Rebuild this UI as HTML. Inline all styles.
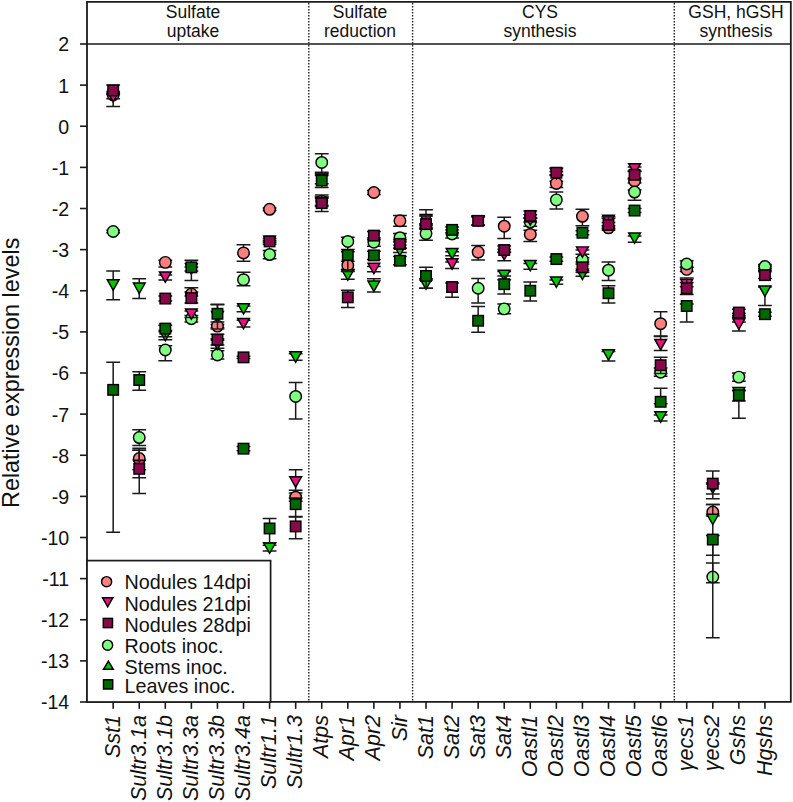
<!DOCTYPE html>
<html><head><meta charset="utf-8"><style>
html,body{margin:0;padding:0;background:#fff;}
body{width:793px;height:802px;position:relative;overflow:hidden;font-family:"Liberation Sans",sans-serif;color:#111;}
svg{position:absolute;left:0;top:0;}
.yt{position:absolute;right:723.8px;font-size:19.6px;line-height:22px;text-align:right;white-space:nowrap;}
.xl{position:absolute;top:715px;font-size:21.5px;font-style:italic;line-height:21px;white-space:nowrap;transform-origin:0 0;transform:rotate(-90deg) translate(-100%,-100%);text-align:right;}
.hd{position:absolute;top:0;font-size:17.5px;line-height:19.3px;text-align:center;white-space:nowrap;}
.lg{position:absolute;left:124.6px;font-size:19.75px;line-height:22px;white-space:nowrap;}
.ylab{position:absolute;left:0;top:0;font-size:23.4px;line-height:24px;white-space:nowrap;transform-origin:0 0;}
</style></head><body>
<svg width="793" height="802" viewBox="0 0 793 802">
<path d="M87,1.8H790.8V701.8H87Z" fill="none" stroke="#1a1a1a" stroke-width="1.8"/>
<path d="M87,44H790.8" stroke="#1a1a1a" stroke-width="1.6"/>
<path d="M308.8,3V701" stroke="#222" stroke-width="1.4" stroke-dasharray="1.5,1.5"/>
<path d="M412.6,3V701" stroke="#222" stroke-width="1.4" stroke-dasharray="1.5,1.5"/>
<path d="M674.3,3V701" stroke="#222" stroke-width="1.4" stroke-dasharray="1.5,1.5"/>
<path d="M80,44.00H87" stroke="#1a1a1a" stroke-width="1.6"/>
<path d="M80,85.12H87" stroke="#1a1a1a" stroke-width="1.6"/>
<path d="M80,126.25H87" stroke="#1a1a1a" stroke-width="1.6"/>
<path d="M80,167.38H87" stroke="#1a1a1a" stroke-width="1.6"/>
<path d="M80,208.50H87" stroke="#1a1a1a" stroke-width="1.6"/>
<path d="M80,249.62H87" stroke="#1a1a1a" stroke-width="1.6"/>
<path d="M80,290.75H87" stroke="#1a1a1a" stroke-width="1.6"/>
<path d="M80,331.88H87" stroke="#1a1a1a" stroke-width="1.6"/>
<path d="M80,373.00H87" stroke="#1a1a1a" stroke-width="1.6"/>
<path d="M80,414.12H87" stroke="#1a1a1a" stroke-width="1.6"/>
<path d="M80,455.25H87" stroke="#1a1a1a" stroke-width="1.6"/>
<path d="M80,496.38H87" stroke="#1a1a1a" stroke-width="1.6"/>
<path d="M80,537.50H87" stroke="#1a1a1a" stroke-width="1.6"/>
<path d="M80,578.62H87" stroke="#1a1a1a" stroke-width="1.6"/>
<path d="M80,619.75H87" stroke="#1a1a1a" stroke-width="1.6"/>
<path d="M80,660.88H87" stroke="#1a1a1a" stroke-width="1.6"/>
<path d="M80,702.00H87" stroke="#1a1a1a" stroke-width="1.6"/>
<path d="M113.17,702V708.8" stroke="#1a1a1a" stroke-width="1.6"/>
<path d="M139.24,702V708.8" stroke="#1a1a1a" stroke-width="1.6"/>
<path d="M165.31,702V708.8" stroke="#1a1a1a" stroke-width="1.6"/>
<path d="M191.38,702V708.8" stroke="#1a1a1a" stroke-width="1.6"/>
<path d="M217.45,702V708.8" stroke="#1a1a1a" stroke-width="1.6"/>
<path d="M243.52,702V708.8" stroke="#1a1a1a" stroke-width="1.6"/>
<path d="M269.59,702V708.8" stroke="#1a1a1a" stroke-width="1.6"/>
<path d="M295.66,702V708.8" stroke="#1a1a1a" stroke-width="1.6"/>
<path d="M321.73,702V708.8" stroke="#1a1a1a" stroke-width="1.6"/>
<path d="M347.80,702V708.8" stroke="#1a1a1a" stroke-width="1.6"/>
<path d="M373.87,702V708.8" stroke="#1a1a1a" stroke-width="1.6"/>
<path d="M399.94,702V708.8" stroke="#1a1a1a" stroke-width="1.6"/>
<path d="M426.01,702V708.8" stroke="#1a1a1a" stroke-width="1.6"/>
<path d="M452.08,702V708.8" stroke="#1a1a1a" stroke-width="1.6"/>
<path d="M478.15,702V708.8" stroke="#1a1a1a" stroke-width="1.6"/>
<path d="M504.22,702V708.8" stroke="#1a1a1a" stroke-width="1.6"/>
<path d="M530.29,702V708.8" stroke="#1a1a1a" stroke-width="1.6"/>
<path d="M556.36,702V708.8" stroke="#1a1a1a" stroke-width="1.6"/>
<path d="M582.43,702V708.8" stroke="#1a1a1a" stroke-width="1.6"/>
<path d="M608.50,702V708.8" stroke="#1a1a1a" stroke-width="1.6"/>
<path d="M634.57,702V708.8" stroke="#1a1a1a" stroke-width="1.6"/>
<path d="M660.64,702V708.8" stroke="#1a1a1a" stroke-width="1.6"/>
<path d="M686.71,702V708.8" stroke="#1a1a1a" stroke-width="1.6"/>
<path d="M712.78,702V708.8" stroke="#1a1a1a" stroke-width="1.6"/>
<path d="M738.85,702V708.8" stroke="#1a1a1a" stroke-width="1.6"/>
<path d="M764.92,702V708.8" stroke="#1a1a1a" stroke-width="1.6"/>
<path d="M113.17,93.76V106.51M106.27,93.76H120.07M106.27,106.51H120.07" stroke="#1a1a1a" stroke-width="1.5" fill="none"/>
<path d="M139.24,450.31V493.50M132.34,450.31H146.14M132.34,493.50H146.14" stroke="#1a1a1a" stroke-width="1.5" fill="none"/>
<path d="M165.31,260.32V266.90M158.41,260.32H172.21M158.41,266.90H172.21" stroke="#1a1a1a" stroke-width="1.5" fill="none"/>
<path d="M191.38,291.98V296.10M184.48,291.98H198.28M184.48,296.10H198.28" stroke="#1a1a1a" stroke-width="1.5" fill="none"/>
<path d="M217.45,324.47V327.76M210.55,324.47H224.35M210.55,327.76H224.35" stroke="#1a1a1a" stroke-width="1.5" fill="none"/>
<path d="M243.52,244.69V261.14M236.62,244.69H250.42M236.62,261.14H250.42" stroke="#1a1a1a" stroke-width="1.5" fill="none"/>
<path d="M269.59,208.09V210.56M262.69,208.09H276.49M262.69,210.56H276.49" stroke="#1a1a1a" stroke-width="1.5" fill="none"/>
<path d="M295.66,493.08V501.31M288.76,493.08H302.56M288.76,501.31H302.56" stroke="#1a1a1a" stroke-width="1.5" fill="none"/>
<path d="M321.73,196.98V205.21M314.83,196.98H328.63M314.83,205.21H328.63" stroke="#1a1a1a" stroke-width="1.5" fill="none"/>
<path d="M347.80,261.14V269.37M340.90,261.14H354.70M340.90,269.37H354.70" stroke="#1a1a1a" stroke-width="1.5" fill="none"/>
<path d="M373.87,190.41V194.52M366.97,190.41H380.77M366.97,194.52H380.77" stroke="#1a1a1a" stroke-width="1.5" fill="none"/>
<path d="M399.94,215.49V226.18M393.04,215.49H406.84M393.04,226.18H406.84" stroke="#1a1a1a" stroke-width="1.5" fill="none"/>
<path d="M426.01,224.95V229.06M419.11,224.95H432.91M419.11,229.06H432.91" stroke="#1a1a1a" stroke-width="1.5" fill="none"/>
<path d="M478.15,245.51V259.91M471.25,245.51H485.05M471.25,259.91H485.05" stroke="#1a1a1a" stroke-width="1.5" fill="none"/>
<path d="M504.22,217.14V238.52M497.32,217.14H511.12M497.32,238.52H511.12" stroke="#1a1a1a" stroke-width="1.5" fill="none"/>
<path d="M530.29,230.30V241.40M523.39,230.30H537.19M523.39,241.40H537.19" stroke="#1a1a1a" stroke-width="1.5" fill="none"/>
<path d="M556.36,181.36V187.53M549.46,181.36H563.26M549.46,187.53H563.26" stroke="#1a1a1a" stroke-width="1.5" fill="none"/>
<path d="M582.43,209.32V225.77M575.53,209.32H589.33M575.53,225.77H589.33" stroke="#1a1a1a" stroke-width="1.5" fill="none"/>
<path d="M608.50,225.77V229.88M601.60,225.77H615.40M601.60,229.88H615.40" stroke="#1a1a1a" stroke-width="1.5" fill="none"/>
<path d="M634.57,178.89V183.00M627.67,178.89H641.47M627.67,183.00H641.47" stroke="#1a1a1a" stroke-width="1.5" fill="none"/>
<path d="M660.64,311.72V335.99M653.74,311.72H667.54M653.74,335.99H667.54" stroke="#1a1a1a" stroke-width="1.5" fill="none"/>
<path d="M686.71,267.31V271.42M679.81,267.31H693.61M679.81,271.42H693.61" stroke="#1a1a1a" stroke-width="1.5" fill="none"/>
<path d="M712.78,504.60V516.12M705.88,504.60H719.68M705.88,516.12H719.68" stroke="#1a1a1a" stroke-width="1.5" fill="none"/>
<path d="M738.85,313.37V317.48M731.95,313.37H745.75M731.95,317.48H745.75" stroke="#1a1a1a" stroke-width="1.5" fill="none"/>
<path d="M764.92,266.08V270.19M758.02,266.08H771.82M758.02,270.19H771.82" stroke="#1a1a1a" stroke-width="1.5" fill="none"/>
<circle cx="113.17" cy="95.00" r="5.75" fill="#FD8080" stroke="#000" stroke-width="1.45"/>
<circle cx="139.24" cy="458.54" r="5.75" fill="#FD8080" stroke="#000" stroke-width="1.45"/>
<circle cx="165.31" cy="262.37" r="5.75" fill="#FD8080" stroke="#000" stroke-width="1.45"/>
<circle cx="191.38" cy="294.04" r="5.75" fill="#FD8080" stroke="#000" stroke-width="1.45"/>
<circle cx="217.45" cy="326.12" r="5.75" fill="#FD8080" stroke="#000" stroke-width="1.45"/>
<circle cx="243.52" cy="252.91" r="5.75" fill="#FD8080" stroke="#000" stroke-width="1.45"/>
<circle cx="269.59" cy="209.32" r="5.75" fill="#FD8080" stroke="#000" stroke-width="1.45"/>
<circle cx="295.66" cy="497.20" r="5.75" fill="#FD8080" stroke="#000" stroke-width="1.45"/>
<circle cx="321.73" cy="201.10" r="5.75" fill="#FD8080" stroke="#000" stroke-width="1.45"/>
<circle cx="347.80" cy="265.25" r="5.75" fill="#FD8080" stroke="#000" stroke-width="1.45"/>
<circle cx="373.87" cy="192.46" r="5.75" fill="#FD8080" stroke="#000" stroke-width="1.45"/>
<circle cx="399.94" cy="220.84" r="5.75" fill="#FD8080" stroke="#000" stroke-width="1.45"/>
<circle cx="426.01" cy="227.01" r="5.75" fill="#FD8080" stroke="#000" stroke-width="1.45"/>
<circle cx="478.15" cy="252.09" r="5.75" fill="#FD8080" stroke="#000" stroke-width="1.45"/>
<circle cx="504.22" cy="226.18" r="5.75" fill="#FD8080" stroke="#000" stroke-width="1.45"/>
<circle cx="530.29" cy="234.41" r="5.75" fill="#FD8080" stroke="#000" stroke-width="1.45"/>
<circle cx="556.36" cy="183.41" r="5.75" fill="#FD8080" stroke="#000" stroke-width="1.45"/>
<circle cx="582.43" cy="216.31" r="5.75" fill="#FD8080" stroke="#000" stroke-width="1.45"/>
<circle cx="608.50" cy="227.83" r="5.75" fill="#FD8080" stroke="#000" stroke-width="1.45"/>
<circle cx="634.57" cy="180.95" r="5.75" fill="#FD8080" stroke="#000" stroke-width="1.45"/>
<circle cx="660.64" cy="323.65" r="5.75" fill="#FD8080" stroke="#000" stroke-width="1.45"/>
<circle cx="686.71" cy="269.37" r="5.75" fill="#FD8080" stroke="#000" stroke-width="1.45"/>
<circle cx="712.78" cy="512.00" r="5.75" fill="#FD8080" stroke="#000" stroke-width="1.45"/>
<circle cx="738.85" cy="315.43" r="5.75" fill="#FD8080" stroke="#000" stroke-width="1.45"/>
<circle cx="764.92" cy="268.13" r="5.75" fill="#FD8080" stroke="#000" stroke-width="1.45"/>
<path d="M113.17,230.30V232.76M106.27,230.30H120.07M106.27,232.76H120.07" stroke="#1a1a1a" stroke-width="1.5" fill="none"/>
<path d="M139.24,429.75V445.38M132.34,429.75H146.14M132.34,445.38H146.14" stroke="#1a1a1a" stroke-width="1.5" fill="none"/>
<path d="M165.31,345.86V360.66M158.41,345.86H172.21M158.41,360.66H172.21" stroke="#1a1a1a" stroke-width="1.5" fill="none"/>
<path d="M191.38,315.43V322.00M184.48,315.43H198.28M184.48,322.00H198.28" stroke="#1a1a1a" stroke-width="1.5" fill="none"/>
<path d="M217.45,350.79V359.02M210.55,350.79H224.35M210.55,359.02H224.35" stroke="#1a1a1a" stroke-width="1.5" fill="none"/>
<path d="M243.52,272.24V285.81M236.62,272.24H250.42M236.62,285.81H250.42" stroke="#1a1a1a" stroke-width="1.5" fill="none"/>
<path d="M269.59,250.45V258.67M262.69,250.45H276.49M262.69,258.67H276.49" stroke="#1a1a1a" stroke-width="1.5" fill="none"/>
<path d="M295.66,382.46V419.06M288.76,382.46H302.56M288.76,419.06H302.56" stroke="#1a1a1a" stroke-width="1.5" fill="none"/>
<path d="M321.73,153.80V172.31M314.83,153.80H328.63M314.83,172.31H328.63" stroke="#1a1a1a" stroke-width="1.5" fill="none"/>
<path d="M347.80,237.29V249.62M340.90,237.29H354.70M340.90,249.62H354.70" stroke="#1a1a1a" stroke-width="1.5" fill="none"/>
<path d="M373.87,238.11V246.34M366.97,238.11H380.77M366.97,246.34H380.77" stroke="#1a1a1a" stroke-width="1.5" fill="none"/>
<path d="M399.94,233.59V241.81M393.04,233.59H406.84M393.04,241.81H406.84" stroke="#1a1a1a" stroke-width="1.5" fill="none"/>
<path d="M426.01,228.65V240.17M419.11,228.65H432.91M419.11,240.17H432.91" stroke="#1a1a1a" stroke-width="1.5" fill="none"/>
<path d="M452.08,229.88V238.11M445.18,229.88H458.98M445.18,238.11H458.98" stroke="#1a1a1a" stroke-width="1.5" fill="none"/>
<path d="M478.15,278.41V303.09M471.25,278.41H485.05M471.25,303.09H485.05" stroke="#1a1a1a" stroke-width="1.5" fill="none"/>
<path d="M504.22,303.91V313.78M497.32,303.91H511.12M497.32,313.78H511.12" stroke="#1a1a1a" stroke-width="1.5" fill="none"/>
<path d="M530.29,217.96V226.18M523.39,217.96H537.19M523.39,226.18H537.19" stroke="#1a1a1a" stroke-width="1.5" fill="none"/>
<path d="M556.36,192.05V208.91M549.46,192.05H563.26M549.46,208.91H563.26" stroke="#1a1a1a" stroke-width="1.5" fill="none"/>
<path d="M582.43,257.85V261.96M575.53,257.85H589.33M575.53,261.96H589.33" stroke="#1a1a1a" stroke-width="1.5" fill="none"/>
<path d="M608.50,261.96V280.47M601.60,261.96H615.40M601.60,280.47H615.40" stroke="#1a1a1a" stroke-width="1.5" fill="none"/>
<path d="M634.57,189.99V200.28M627.67,189.99H641.47M627.67,200.28H641.47" stroke="#1a1a1a" stroke-width="1.5" fill="none"/>
<path d="M660.64,368.07V376.29M653.74,368.07H667.54M653.74,376.29H667.54" stroke="#1a1a1a" stroke-width="1.5" fill="none"/>
<path d="M686.71,260.73V267.31M679.81,260.73H693.61M679.81,267.31H693.61" stroke="#1a1a1a" stroke-width="1.5" fill="none"/>
<path d="M712.78,563.00V582.74M705.88,563.00H719.68M705.88,582.74H719.68" stroke="#1a1a1a" stroke-width="1.5" fill="none"/>
<path d="M738.85,373.00V381.22M731.95,373.00H745.75M731.95,381.22H745.75" stroke="#1a1a1a" stroke-width="1.5" fill="none"/>
<path d="M764.92,264.43V268.54M758.02,264.43H771.82M758.02,268.54H771.82" stroke="#1a1a1a" stroke-width="1.5" fill="none"/>
<circle cx="113.17" cy="231.53" r="5.75" fill="#80FF80" stroke="#000" stroke-width="1.45"/>
<circle cx="139.24" cy="437.57" r="5.75" fill="#80FF80" stroke="#000" stroke-width="1.45"/>
<circle cx="165.31" cy="349.97" r="5.75" fill="#80FF80" stroke="#000" stroke-width="1.45"/>
<circle cx="191.38" cy="318.71" r="5.75" fill="#80FF80" stroke="#000" stroke-width="1.45"/>
<circle cx="217.45" cy="354.90" r="5.75" fill="#80FF80" stroke="#000" stroke-width="1.45"/>
<circle cx="243.52" cy="279.65" r="5.75" fill="#80FF80" stroke="#000" stroke-width="1.45"/>
<circle cx="269.59" cy="254.56" r="5.75" fill="#80FF80" stroke="#000" stroke-width="1.45"/>
<circle cx="295.66" cy="396.44" r="5.75" fill="#80FF80" stroke="#000" stroke-width="1.45"/>
<circle cx="321.73" cy="162.44" r="5.75" fill="#80FF80" stroke="#000" stroke-width="1.45"/>
<circle cx="347.80" cy="241.40" r="5.75" fill="#80FF80" stroke="#000" stroke-width="1.45"/>
<circle cx="373.87" cy="242.22" r="5.75" fill="#80FF80" stroke="#000" stroke-width="1.45"/>
<circle cx="399.94" cy="237.70" r="5.75" fill="#80FF80" stroke="#000" stroke-width="1.45"/>
<circle cx="426.01" cy="233.59" r="5.75" fill="#80FF80" stroke="#000" stroke-width="1.45"/>
<circle cx="452.08" cy="234.00" r="5.75" fill="#80FF80" stroke="#000" stroke-width="1.45"/>
<circle cx="478.15" cy="288.28" r="5.75" fill="#80FF80" stroke="#000" stroke-width="1.45"/>
<circle cx="504.22" cy="308.85" r="5.75" fill="#80FF80" stroke="#000" stroke-width="1.45"/>
<circle cx="530.29" cy="222.07" r="5.75" fill="#80FF80" stroke="#000" stroke-width="1.45"/>
<circle cx="556.36" cy="199.86" r="5.75" fill="#80FF80" stroke="#000" stroke-width="1.45"/>
<circle cx="582.43" cy="259.91" r="5.75" fill="#80FF80" stroke="#000" stroke-width="1.45"/>
<circle cx="608.50" cy="270.19" r="5.75" fill="#80FF80" stroke="#000" stroke-width="1.45"/>
<circle cx="634.57" cy="192.05" r="5.75" fill="#80FF80" stroke="#000" stroke-width="1.45"/>
<circle cx="660.64" cy="372.18" r="5.75" fill="#80FF80" stroke="#000" stroke-width="1.45"/>
<circle cx="686.71" cy="264.02" r="5.75" fill="#80FF80" stroke="#000" stroke-width="1.45"/>
<circle cx="712.78" cy="576.98" r="5.75" fill="#80FF80" stroke="#000" stroke-width="1.45"/>
<circle cx="738.85" cy="377.11" r="5.75" fill="#80FF80" stroke="#000" stroke-width="1.45"/>
<circle cx="764.92" cy="266.49" r="5.75" fill="#80FF80" stroke="#000" stroke-width="1.45"/>
<path d="M113.17,271.01V299.80M106.27,271.01H120.07M106.27,299.80H120.07" stroke="#1a1a1a" stroke-width="1.5" fill="none"/>
<path d="M139.24,278.82V298.56M132.34,278.82H146.14M132.34,298.56H146.14" stroke="#1a1a1a" stroke-width="1.5" fill="none"/>
<path d="M165.31,331.46V339.69M158.41,331.46H172.21M158.41,339.69H172.21" stroke="#1a1a1a" stroke-width="1.5" fill="none"/>
<path d="M191.38,266.90V271.01M184.48,266.90H198.28M184.48,271.01H198.28" stroke="#1a1a1a" stroke-width="1.5" fill="none"/>
<path d="M217.45,304.32V329.00M210.55,304.32H224.35M210.55,329.00H224.35" stroke="#1a1a1a" stroke-width="1.5" fill="none"/>
<path d="M243.52,305.97V311.72M236.62,305.97H250.42M236.62,311.72H250.42" stroke="#1a1a1a" stroke-width="1.5" fill="none"/>
<path d="M269.59,545.31V551.07M262.69,545.31H276.49M262.69,551.07H276.49" stroke="#1a1a1a" stroke-width="1.5" fill="none"/>
<path d="M295.66,353.67V360.25M288.76,353.67H302.56M288.76,360.25H302.56" stroke="#1a1a1a" stroke-width="1.5" fill="none"/>
<path d="M321.73,175.60V183.83M314.83,175.60H328.63M314.83,183.83H328.63" stroke="#1a1a1a" stroke-width="1.5" fill="none"/>
<path d="M347.80,271.01V279.24M340.90,271.01H354.70M340.90,279.24H354.70" stroke="#1a1a1a" stroke-width="1.5" fill="none"/>
<path d="M373.87,278.82V291.98M366.97,278.82H380.77M366.97,291.98H380.77" stroke="#1a1a1a" stroke-width="1.5" fill="none"/>
<path d="M399.94,248.39V252.50M393.04,248.39H406.84M393.04,252.50H406.84" stroke="#1a1a1a" stroke-width="1.5" fill="none"/>
<path d="M426.01,280.06V288.28M419.11,280.06H432.91M419.11,288.28H432.91" stroke="#1a1a1a" stroke-width="1.5" fill="none"/>
<path d="M452.08,251.68V255.79M445.18,251.68H458.98M445.18,255.79H458.98" stroke="#1a1a1a" stroke-width="1.5" fill="none"/>
<path d="M504.22,271.42V279.65M497.32,271.42H511.12M497.32,279.65H511.12" stroke="#1a1a1a" stroke-width="1.5" fill="none"/>
<path d="M530.29,263.61V269.37M523.39,263.61H537.19M523.39,269.37H537.19" stroke="#1a1a1a" stroke-width="1.5" fill="none"/>
<path d="M556.36,280.06V284.17M549.46,280.06H563.26M549.46,284.17H563.26" stroke="#1a1a1a" stroke-width="1.5" fill="none"/>
<path d="M582.43,272.24V276.36M575.53,272.24H589.33M575.53,276.36H589.33" stroke="#1a1a1a" stroke-width="1.5" fill="none"/>
<path d="M608.50,351.62V361.07M601.60,351.62H615.40M601.60,361.07H615.40" stroke="#1a1a1a" stroke-width="1.5" fill="none"/>
<path d="M634.57,236.05V242.22M627.67,236.05H641.47M627.67,242.22H641.47" stroke="#1a1a1a" stroke-width="1.5" fill="none"/>
<path d="M660.64,414.95V421.12M653.74,414.95H667.54M653.74,421.12H667.54" stroke="#1a1a1a" stroke-width="1.5" fill="none"/>
<path d="M712.78,504.60V637.85M705.88,504.60H719.68M705.88,637.85H719.68" stroke="#1a1a1a" stroke-width="1.5" fill="none"/>
<path d="M738.85,390.68V400.96M731.95,390.68H745.75M731.95,400.96H745.75" stroke="#1a1a1a" stroke-width="1.5" fill="none"/>
<path d="M764.92,287.05V305.55M758.02,287.05H771.82M758.02,305.55H771.82" stroke="#1a1a1a" stroke-width="1.5" fill="none"/>
<path d="M107.27,279.79L119.07,279.79L113.17,290.19Z" fill="#04C604" stroke="#000" stroke-width="1.45" stroke-linejoin="miter"/>
<path d="M133.34,283.08L145.14,283.08L139.24,293.48Z" fill="#04C604" stroke="#000" stroke-width="1.45" stroke-linejoin="miter"/>
<path d="M159.41,330.38L171.21,330.38L165.31,340.78Z" fill="#04C604" stroke="#000" stroke-width="1.45" stroke-linejoin="miter"/>
<path d="M185.48,263.75L197.28,263.75L191.38,274.15Z" fill="#04C604" stroke="#000" stroke-width="1.45" stroke-linejoin="miter"/>
<path d="M211.55,311.46L223.35,311.46L217.45,321.86Z" fill="#04C604" stroke="#000" stroke-width="1.45" stroke-linejoin="miter"/>
<path d="M237.62,303.65L249.42,303.65L243.52,314.05Z" fill="#04C604" stroke="#000" stroke-width="1.45" stroke-linejoin="miter"/>
<path d="M263.69,542.99L275.49,542.99L269.59,553.39Z" fill="#04C604" stroke="#000" stroke-width="1.45" stroke-linejoin="miter"/>
<path d="M289.76,351.76L301.56,351.76L295.66,362.16Z" fill="#04C604" stroke="#000" stroke-width="1.45" stroke-linejoin="miter"/>
<path d="M315.83,174.51L327.63,174.51L321.73,184.91Z" fill="#04C604" stroke="#000" stroke-width="1.45" stroke-linejoin="miter"/>
<path d="M341.90,269.92L353.70,269.92L347.80,280.32Z" fill="#04C604" stroke="#000" stroke-width="1.45" stroke-linejoin="miter"/>
<path d="M367.97,281.03L379.77,281.03L373.87,291.43Z" fill="#04C604" stroke="#000" stroke-width="1.45" stroke-linejoin="miter"/>
<path d="M394.04,245.25L405.84,245.25L399.94,255.65Z" fill="#04C604" stroke="#000" stroke-width="1.45" stroke-linejoin="miter"/>
<path d="M420.11,278.97L431.91,278.97L426.01,289.37Z" fill="#04C604" stroke="#000" stroke-width="1.45" stroke-linejoin="miter"/>
<path d="M446.18,248.54L457.98,248.54L452.08,258.94Z" fill="#04C604" stroke="#000" stroke-width="1.45" stroke-linejoin="miter"/>
<path d="M498.32,270.33L510.12,270.33L504.22,280.73Z" fill="#04C604" stroke="#000" stroke-width="1.45" stroke-linejoin="miter"/>
<path d="M524.39,260.46L536.19,260.46L530.29,270.86Z" fill="#04C604" stroke="#000" stroke-width="1.45" stroke-linejoin="miter"/>
<path d="M550.46,276.91L562.26,276.91L556.36,287.31Z" fill="#04C604" stroke="#000" stroke-width="1.45" stroke-linejoin="miter"/>
<path d="M576.53,269.10L588.33,269.10L582.43,279.50Z" fill="#04C604" stroke="#000" stroke-width="1.45" stroke-linejoin="miter"/>
<path d="M602.60,349.70L614.40,349.70L608.50,360.10Z" fill="#04C604" stroke="#000" stroke-width="1.45" stroke-linejoin="miter"/>
<path d="M628.67,232.91L640.47,232.91L634.57,243.31Z" fill="#04C604" stroke="#000" stroke-width="1.45" stroke-linejoin="miter"/>
<path d="M654.74,411.80L666.54,411.80L660.64,422.20Z" fill="#04C604" stroke="#000" stroke-width="1.45" stroke-linejoin="miter"/>
<path d="M706.88,514.20L718.68,514.20L712.78,524.61Z" fill="#04C604" stroke="#000" stroke-width="1.45" stroke-linejoin="miter"/>
<path d="M732.95,387.54L744.75,387.54L738.85,397.94Z" fill="#04C604" stroke="#000" stroke-width="1.45" stroke-linejoin="miter"/>
<path d="M759.02,285.96L770.82,285.96L764.92,296.36Z" fill="#04C604" stroke="#000" stroke-width="1.45" stroke-linejoin="miter"/>
<path d="M113.17,362.31V532.15M106.27,362.31H120.07M106.27,532.15H120.07" stroke="#1a1a1a" stroke-width="1.5" fill="none"/>
<path d="M139.24,371.77V390.27M132.34,371.77H146.14M132.34,390.27H146.14" stroke="#1a1a1a" stroke-width="1.5" fill="none"/>
<path d="M165.31,325.30V336.81M158.41,325.30H172.21M158.41,336.81H172.21" stroke="#1a1a1a" stroke-width="1.5" fill="none"/>
<path d="M191.38,260.32V280.47M184.48,260.32H198.28M184.48,280.47H198.28" stroke="#1a1a1a" stroke-width="1.5" fill="none"/>
<path d="M217.45,304.73V322.00M210.55,304.73H224.35M210.55,322.00H224.35" stroke="#1a1a1a" stroke-width="1.5" fill="none"/>
<path d="M243.52,446.61V450.73M236.62,446.61H250.42M236.62,450.73H250.42" stroke="#1a1a1a" stroke-width="1.5" fill="none"/>
<path d="M269.59,518.58V542.85M262.69,518.58H276.49M262.69,542.85H276.49" stroke="#1a1a1a" stroke-width="1.5" fill="none"/>
<path d="M295.66,498.02V516.53M288.76,498.02H302.56M288.76,516.53H302.56" stroke="#1a1a1a" stroke-width="1.5" fill="none"/>
<path d="M321.73,173.54V187.53M314.83,173.54H328.63M314.83,187.53H328.63" stroke="#1a1a1a" stroke-width="1.5" fill="none"/>
<path d="M347.80,251.68V271.42M340.90,251.68H354.70M340.90,271.42H354.70" stroke="#1a1a1a" stroke-width="1.5" fill="none"/>
<path d="M373.87,251.27V259.50M366.97,251.27H380.77M366.97,259.50H380.77" stroke="#1a1a1a" stroke-width="1.5" fill="none"/>
<path d="M399.94,256.62V264.84M393.04,256.62H406.84M393.04,264.84H406.84" stroke="#1a1a1a" stroke-width="1.5" fill="none"/>
<path d="M426.01,267.31V288.28M419.11,267.31H432.91M419.11,288.28H432.91" stroke="#1a1a1a" stroke-width="1.5" fill="none"/>
<path d="M452.08,227.01V232.76M445.18,227.01H458.98M445.18,232.76H458.98" stroke="#1a1a1a" stroke-width="1.5" fill="none"/>
<path d="M478.15,306.38V332.29M471.25,306.38H485.05M471.25,332.29H485.05" stroke="#1a1a1a" stroke-width="1.5" fill="none"/>
<path d="M504.22,275.94V294.04M497.32,275.94H511.12M497.32,294.04H511.12" stroke="#1a1a1a" stroke-width="1.5" fill="none"/>
<path d="M530.29,282.11V301.03M523.39,282.11H537.19M523.39,301.03H537.19" stroke="#1a1a1a" stroke-width="1.5" fill="none"/>
<path d="M556.36,257.03V261.14M549.46,257.03H563.26M549.46,261.14H563.26" stroke="#1a1a1a" stroke-width="1.5" fill="none"/>
<path d="M582.43,230.71V234.82M575.53,230.71H589.33M575.53,234.82H589.33" stroke="#1a1a1a" stroke-width="1.5" fill="none"/>
<path d="M608.50,285.81V303.09M601.60,285.81H615.40M601.60,303.09H615.40" stroke="#1a1a1a" stroke-width="1.5" fill="none"/>
<path d="M634.57,208.50V212.61M627.67,208.50H641.47M627.67,212.61H641.47" stroke="#1a1a1a" stroke-width="1.5" fill="none"/>
<path d="M660.64,388.22V403.84M653.74,388.22H667.54M653.74,403.84H667.54" stroke="#1a1a1a" stroke-width="1.5" fill="none"/>
<path d="M686.71,303.91V322.00M679.81,303.91H693.61M679.81,322.00H693.61" stroke="#1a1a1a" stroke-width="1.5" fill="none"/>
<path d="M712.78,535.44V555.18M705.88,535.44H719.68M705.88,555.18H719.68" stroke="#1a1a1a" stroke-width="1.5" fill="none"/>
<path d="M738.85,390.27V418.24M731.95,390.27H745.75M731.95,418.24H745.75" stroke="#1a1a1a" stroke-width="1.5" fill="none"/>
<path d="M764.92,312.13V316.25M758.02,312.13H771.82M758.02,316.25H771.82" stroke="#1a1a1a" stroke-width="1.5" fill="none"/>
<rect x="107.92" y="384.61" width="10.50" height="10.50" fill="#006800" stroke="#000" stroke-width="1.45"/>
<rect x="133.99" y="374.74" width="10.50" height="10.50" fill="#006800" stroke="#000" stroke-width="1.45"/>
<rect x="160.06" y="323.33" width="10.50" height="10.50" fill="#006800" stroke="#000" stroke-width="1.45"/>
<rect x="186.13" y="262.06" width="10.50" height="10.50" fill="#006800" stroke="#000" stroke-width="1.45"/>
<rect x="212.20" y="308.53" width="10.50" height="10.50" fill="#006800" stroke="#000" stroke-width="1.45"/>
<rect x="238.27" y="443.42" width="10.50" height="10.50" fill="#006800" stroke="#000" stroke-width="1.45"/>
<rect x="264.34" y="523.20" width="10.50" height="10.50" fill="#006800" stroke="#000" stroke-width="1.45"/>
<rect x="290.41" y="498.94" width="10.50" height="10.50" fill="#006800" stroke="#000" stroke-width="1.45"/>
<rect x="316.48" y="175.29" width="10.50" height="10.50" fill="#006800" stroke="#000" stroke-width="1.45"/>
<rect x="342.55" y="249.72" width="10.50" height="10.50" fill="#006800" stroke="#000" stroke-width="1.45"/>
<rect x="368.62" y="250.13" width="10.50" height="10.50" fill="#006800" stroke="#000" stroke-width="1.45"/>
<rect x="394.69" y="255.48" width="10.50" height="10.50" fill="#006800" stroke="#000" stroke-width="1.45"/>
<rect x="420.76" y="270.70" width="10.50" height="10.50" fill="#006800" stroke="#000" stroke-width="1.45"/>
<rect x="446.83" y="224.63" width="10.50" height="10.50" fill="#006800" stroke="#000" stroke-width="1.45"/>
<rect x="472.90" y="315.52" width="10.50" height="10.50" fill="#006800" stroke="#000" stroke-width="1.45"/>
<rect x="498.97" y="278.92" width="10.50" height="10.50" fill="#006800" stroke="#000" stroke-width="1.45"/>
<rect x="525.04" y="285.50" width="10.50" height="10.50" fill="#006800" stroke="#000" stroke-width="1.45"/>
<rect x="551.11" y="253.83" width="10.50" height="10.50" fill="#006800" stroke="#000" stroke-width="1.45"/>
<rect x="577.18" y="227.51" width="10.50" height="10.50" fill="#006800" stroke="#000" stroke-width="1.45"/>
<rect x="603.25" y="287.97" width="10.50" height="10.50" fill="#006800" stroke="#000" stroke-width="1.45"/>
<rect x="629.32" y="205.31" width="10.50" height="10.50" fill="#006800" stroke="#000" stroke-width="1.45"/>
<rect x="655.39" y="396.54" width="10.50" height="10.50" fill="#006800" stroke="#000" stroke-width="1.45"/>
<rect x="681.46" y="300.72" width="10.50" height="10.50" fill="#006800" stroke="#000" stroke-width="1.45"/>
<rect x="707.53" y="534.31" width="10.50" height="10.50" fill="#006800" stroke="#000" stroke-width="1.45"/>
<rect x="733.60" y="389.96" width="10.50" height="10.50" fill="#006800" stroke="#000" stroke-width="1.45"/>
<rect x="759.67" y="308.94" width="10.50" height="10.50" fill="#006800" stroke="#000" stroke-width="1.45"/>
<path d="M113.17,94.58V98.70M106.27,94.58H120.07M106.27,98.70H120.07" stroke="#1a1a1a" stroke-width="1.5" fill="none"/>
<path d="M139.24,448.26V469.64M132.34,448.26H146.14M132.34,469.64H146.14" stroke="#1a1a1a" stroke-width="1.5" fill="none"/>
<path d="M165.31,275.12V280.06M158.41,275.12H172.21M158.41,280.06H172.21" stroke="#1a1a1a" stroke-width="1.5" fill="none"/>
<path d="M191.38,310.90V317.48M184.48,310.90H198.28M184.48,317.48H198.28" stroke="#1a1a1a" stroke-width="1.5" fill="none"/>
<path d="M217.45,340.10V348.32M210.55,340.10H224.35M210.55,348.32H224.35" stroke="#1a1a1a" stroke-width="1.5" fill="none"/>
<path d="M243.52,320.36V326.94M236.62,320.36H250.42M236.62,326.94H250.42" stroke="#1a1a1a" stroke-width="1.5" fill="none"/>
<path d="M269.59,240.58V242.22M262.69,240.58H276.49M262.69,242.22H276.49" stroke="#1a1a1a" stroke-width="1.5" fill="none"/>
<path d="M295.66,469.64V490.21M288.76,469.64H302.56M288.76,490.21H302.56" stroke="#1a1a1a" stroke-width="1.5" fill="none"/>
<path d="M321.73,198.22V206.44M314.83,198.22H328.63M314.83,206.44H328.63" stroke="#1a1a1a" stroke-width="1.5" fill="none"/>
<path d="M373.87,266.49V271.83M366.97,266.49H380.77M366.97,271.83H380.77" stroke="#1a1a1a" stroke-width="1.5" fill="none"/>
<path d="M426.01,209.73V223.72M419.11,209.73H432.91M419.11,223.72H432.91" stroke="#1a1a1a" stroke-width="1.5" fill="none"/>
<path d="M452.08,261.96V268.54M445.18,261.96H458.98M445.18,268.54H458.98" stroke="#1a1a1a" stroke-width="1.5" fill="none"/>
<path d="M478.15,216.72V224.95M471.25,216.72H485.05M471.25,224.95H485.05" stroke="#1a1a1a" stroke-width="1.5" fill="none"/>
<path d="M504.22,252.50V260.73M497.32,252.50H511.12M497.32,260.73H511.12" stroke="#1a1a1a" stroke-width="1.5" fill="none"/>
<path d="M530.29,217.96V222.07M523.39,217.96H537.19M523.39,222.07H537.19" stroke="#1a1a1a" stroke-width="1.5" fill="none"/>
<path d="M556.36,171.49V175.60M549.46,171.49H563.26M549.46,175.60H563.26" stroke="#1a1a1a" stroke-width="1.5" fill="none"/>
<path d="M582.43,250.04V254.15M575.53,250.04H589.33M575.53,254.15H589.33" stroke="#1a1a1a" stroke-width="1.5" fill="none"/>
<path d="M608.50,218.37V222.48M601.60,218.37H615.40M601.60,222.48H615.40" stroke="#1a1a1a" stroke-width="1.5" fill="none"/>
<path d="M634.57,166.96V171.08M627.67,166.96H641.47M627.67,171.08H641.47" stroke="#1a1a1a" stroke-width="1.5" fill="none"/>
<path d="M660.64,336.40V350.38M653.74,336.40H667.54M653.74,350.38H667.54" stroke="#1a1a1a" stroke-width="1.5" fill="none"/>
<path d="M686.71,282.53V286.64M679.81,282.53H693.61M679.81,286.64H693.61" stroke="#1a1a1a" stroke-width="1.5" fill="none"/>
<path d="M712.78,484.04V493.91M705.88,484.04H719.68M705.88,493.91H719.68" stroke="#1a1a1a" stroke-width="1.5" fill="none"/>
<path d="M738.85,322.00V331.05M731.95,322.00H745.75M731.95,331.05H745.75" stroke="#1a1a1a" stroke-width="1.5" fill="none"/>
<path d="M107.27,91.44L119.07,91.44L113.17,101.84Z" fill="#E0157E" stroke="#000" stroke-width="1.45" stroke-linejoin="miter"/>
<path d="M133.34,460.33L145.14,460.33L139.24,470.73Z" fill="#E0157E" stroke="#000" stroke-width="1.45" stroke-linejoin="miter"/>
<path d="M159.41,271.98L171.21,271.98L165.31,282.38Z" fill="#E0157E" stroke="#000" stroke-width="1.45" stroke-linejoin="miter"/>
<path d="M185.48,308.99L197.28,308.99L191.38,319.39Z" fill="#E0157E" stroke="#000" stroke-width="1.45" stroke-linejoin="miter"/>
<path d="M211.55,339.01L223.35,339.01L217.45,349.41Z" fill="#E0157E" stroke="#000" stroke-width="1.45" stroke-linejoin="miter"/>
<path d="M237.62,318.45L249.42,318.45L243.52,328.85Z" fill="#E0157E" stroke="#000" stroke-width="1.45" stroke-linejoin="miter"/>
<path d="M263.69,236.20L275.49,236.20L269.59,246.60Z" fill="#E0157E" stroke="#000" stroke-width="1.45" stroke-linejoin="miter"/>
<path d="M289.76,476.78L301.56,476.78L295.66,487.18Z" fill="#E0157E" stroke="#000" stroke-width="1.45" stroke-linejoin="miter"/>
<path d="M315.83,197.13L327.63,197.13L321.73,207.53Z" fill="#E0157E" stroke="#000" stroke-width="1.45" stroke-linejoin="miter"/>
<path d="M367.97,263.34L379.77,263.34L373.87,273.74Z" fill="#E0157E" stroke="#000" stroke-width="1.45" stroke-linejoin="miter"/>
<path d="M420.11,214.40L431.91,214.40L426.01,224.80Z" fill="#E0157E" stroke="#000" stroke-width="1.45" stroke-linejoin="miter"/>
<path d="M446.18,258.82L457.98,258.82L452.08,269.22Z" fill="#E0157E" stroke="#000" stroke-width="1.45" stroke-linejoin="miter"/>
<path d="M472.25,215.64L484.05,215.64L478.15,226.04Z" fill="#E0157E" stroke="#000" stroke-width="1.45" stroke-linejoin="miter"/>
<path d="M498.32,249.36L510.12,249.36L504.22,259.76Z" fill="#E0157E" stroke="#000" stroke-width="1.45" stroke-linejoin="miter"/>
<path d="M524.39,214.81L536.19,214.81L530.29,225.21Z" fill="#E0157E" stroke="#000" stroke-width="1.45" stroke-linejoin="miter"/>
<path d="M550.46,168.34L562.26,168.34L556.36,178.74Z" fill="#E0157E" stroke="#000" stroke-width="1.45" stroke-linejoin="miter"/>
<path d="M576.53,246.89L588.33,246.89L582.43,257.29Z" fill="#E0157E" stroke="#000" stroke-width="1.45" stroke-linejoin="miter"/>
<path d="M602.60,215.23L614.40,215.23L608.50,225.63Z" fill="#E0157E" stroke="#000" stroke-width="1.45" stroke-linejoin="miter"/>
<path d="M628.67,163.82L640.47,163.82L634.57,174.22Z" fill="#E0157E" stroke="#000" stroke-width="1.45" stroke-linejoin="miter"/>
<path d="M654.74,339.42L666.54,339.42L660.64,349.82Z" fill="#E0157E" stroke="#000" stroke-width="1.45" stroke-linejoin="miter"/>
<path d="M680.81,279.38L692.61,279.38L686.71,289.78Z" fill="#E0157E" stroke="#000" stroke-width="1.45" stroke-linejoin="miter"/>
<path d="M706.88,482.95L718.68,482.95L712.78,493.35Z" fill="#E0157E" stroke="#000" stroke-width="1.45" stroke-linejoin="miter"/>
<path d="M732.95,318.86L744.75,318.86L738.85,329.26Z" fill="#E0157E" stroke="#000" stroke-width="1.45" stroke-linejoin="miter"/>
<path d="M113.17,85.12V92.53M106.27,85.12H120.07M106.27,92.53H120.07" stroke="#1a1a1a" stroke-width="1.5" fill="none"/>
<path d="M139.24,450.31V477.87M132.34,450.31H146.14M132.34,477.87H146.14" stroke="#1a1a1a" stroke-width="1.5" fill="none"/>
<path d="M165.31,296.10V301.03M158.41,296.10H172.21M158.41,301.03H172.21" stroke="#1a1a1a" stroke-width="1.5" fill="none"/>
<path d="M191.38,287.87V303.09M184.48,287.87H198.28M184.48,303.09H198.28" stroke="#1a1a1a" stroke-width="1.5" fill="none"/>
<path d="M217.45,334.34V345.04M210.55,334.34H224.35M210.55,345.04H224.35" stroke="#1a1a1a" stroke-width="1.5" fill="none"/>
<path d="M243.52,356.14V358.61M236.62,356.14H250.42M236.62,358.61H250.42" stroke="#1a1a1a" stroke-width="1.5" fill="none"/>
<path d="M269.59,238.52V244.28M262.69,238.52H276.49M262.69,244.28H276.49" stroke="#1a1a1a" stroke-width="1.5" fill="none"/>
<path d="M295.66,516.94V538.73M288.76,516.94H302.56M288.76,538.73H302.56" stroke="#1a1a1a" stroke-width="1.5" fill="none"/>
<path d="M321.73,194.93V211.38M314.83,194.93H328.63M314.83,211.38H328.63" stroke="#1a1a1a" stroke-width="1.5" fill="none"/>
<path d="M347.80,290.34V307.61M340.90,290.34H354.70M340.90,307.61H354.70" stroke="#1a1a1a" stroke-width="1.5" fill="none"/>
<path d="M373.87,231.53V239.75M366.97,231.53H380.77M366.97,239.75H380.77" stroke="#1a1a1a" stroke-width="1.5" fill="none"/>
<path d="M399.94,239.75V247.98M393.04,239.75H406.84M393.04,247.98H406.84" stroke="#1a1a1a" stroke-width="1.5" fill="none"/>
<path d="M426.01,215.90V228.24M419.11,215.90H432.91M419.11,228.24H432.91" stroke="#1a1a1a" stroke-width="1.5" fill="none"/>
<path d="M452.08,282.94V297.33M445.18,282.94H458.98M445.18,297.33H458.98" stroke="#1a1a1a" stroke-width="1.5" fill="none"/>
<path d="M478.15,216.72V224.95M471.25,216.72H485.05M471.25,224.95H485.05" stroke="#1a1a1a" stroke-width="1.5" fill="none"/>
<path d="M504.22,245.92V252.09M497.32,245.92H511.12M497.32,252.09H511.12" stroke="#1a1a1a" stroke-width="1.5" fill="none"/>
<path d="M530.29,210.97V217.96M523.39,210.97H537.19M523.39,217.96H537.19" stroke="#1a1a1a" stroke-width="1.5" fill="none"/>
<path d="M556.36,168.61V174.78M549.46,168.61H563.26M549.46,174.78H563.26" stroke="#1a1a1a" stroke-width="1.5" fill="none"/>
<path d="M582.43,264.02V270.60M575.53,264.02H589.33M575.53,270.60H589.33" stroke="#1a1a1a" stroke-width="1.5" fill="none"/>
<path d="M608.50,216.72V228.24M601.60,216.72H615.40M601.60,228.24H615.40" stroke="#1a1a1a" stroke-width="1.5" fill="none"/>
<path d="M634.57,171.49V178.07M627.67,171.49H641.47M627.67,178.07H641.47" stroke="#1a1a1a" stroke-width="1.5" fill="none"/>
<path d="M660.64,357.37V373.41M653.74,357.37H667.54M653.74,373.41H667.54" stroke="#1a1a1a" stroke-width="1.5" fill="none"/>
<path d="M686.71,278.00V294.45M679.81,278.00H693.61M679.81,294.45H693.61" stroke="#1a1a1a" stroke-width="1.5" fill="none"/>
<path d="M712.78,470.88V498.84M705.88,470.88H719.68M705.88,498.84H719.68" stroke="#1a1a1a" stroke-width="1.5" fill="none"/>
<path d="M738.85,309.26V315.84M731.95,309.26H745.75M731.95,315.84H745.75" stroke="#1a1a1a" stroke-width="1.5" fill="none"/>
<path d="M764.92,271.83V278.41M758.02,271.83H771.82M758.02,278.41H771.82" stroke="#1a1a1a" stroke-width="1.5" fill="none"/>
<rect x="107.92" y="85.22" width="10.50" height="10.50" fill="#860A4A" stroke="#000" stroke-width="1.45"/>
<rect x="133.99" y="463.57" width="10.50" height="10.50" fill="#860A4A" stroke="#000" stroke-width="1.45"/>
<rect x="160.06" y="293.31" width="10.50" height="10.50" fill="#860A4A" stroke="#000" stroke-width="1.45"/>
<rect x="186.13" y="292.90" width="10.50" height="10.50" fill="#860A4A" stroke="#000" stroke-width="1.45"/>
<rect x="212.20" y="334.44" width="10.50" height="10.50" fill="#860A4A" stroke="#000" stroke-width="1.45"/>
<rect x="238.27" y="352.12" width="10.50" height="10.50" fill="#860A4A" stroke="#000" stroke-width="1.45"/>
<rect x="264.34" y="236.15" width="10.50" height="10.50" fill="#860A4A" stroke="#000" stroke-width="1.45"/>
<rect x="290.41" y="521.15" width="10.50" height="10.50" fill="#860A4A" stroke="#000" stroke-width="1.45"/>
<rect x="316.48" y="197.90" width="10.50" height="10.50" fill="#860A4A" stroke="#000" stroke-width="1.45"/>
<rect x="342.55" y="292.08" width="10.50" height="10.50" fill="#860A4A" stroke="#000" stroke-width="1.45"/>
<rect x="368.62" y="230.39" width="10.50" height="10.50" fill="#860A4A" stroke="#000" stroke-width="1.45"/>
<rect x="394.69" y="238.62" width="10.50" height="10.50" fill="#860A4A" stroke="#000" stroke-width="1.45"/>
<rect x="420.76" y="218.88" width="10.50" height="10.50" fill="#860A4A" stroke="#000" stroke-width="1.45"/>
<rect x="446.83" y="281.80" width="10.50" height="10.50" fill="#860A4A" stroke="#000" stroke-width="1.45"/>
<rect x="472.90" y="215.59" width="10.50" height="10.50" fill="#860A4A" stroke="#000" stroke-width="1.45"/>
<rect x="498.97" y="244.79" width="10.50" height="10.50" fill="#860A4A" stroke="#000" stroke-width="1.45"/>
<rect x="525.04" y="210.65" width="10.50" height="10.50" fill="#860A4A" stroke="#000" stroke-width="1.45"/>
<rect x="551.11" y="167.47" width="10.50" height="10.50" fill="#860A4A" stroke="#000" stroke-width="1.45"/>
<rect x="577.18" y="262.06" width="10.50" height="10.50" fill="#860A4A" stroke="#000" stroke-width="1.45"/>
<rect x="603.25" y="219.70" width="10.50" height="10.50" fill="#860A4A" stroke="#000" stroke-width="1.45"/>
<rect x="629.32" y="169.53" width="10.50" height="10.50" fill="#860A4A" stroke="#000" stroke-width="1.45"/>
<rect x="655.39" y="359.94" width="10.50" height="10.50" fill="#860A4A" stroke="#000" stroke-width="1.45"/>
<rect x="681.46" y="283.03" width="10.50" height="10.50" fill="#860A4A" stroke="#000" stroke-width="1.45"/>
<rect x="707.53" y="478.38" width="10.50" height="10.50" fill="#860A4A" stroke="#000" stroke-width="1.45"/>
<rect x="733.60" y="307.30" width="10.50" height="10.50" fill="#860A4A" stroke="#000" stroke-width="1.45"/>
<rect x="759.67" y="269.87" width="10.50" height="10.50" fill="#860A4A" stroke="#000" stroke-width="1.45"/>
<rect x="87" y="560.6" width="183.6" height="141.4" fill="#fff" stroke="#1a1a1a" stroke-width="1.7"/>
<circle cx="106.60" cy="581.70" r="5.06" fill="#FD8080" stroke="#000" stroke-width="1.45"/>
<path d="M102.51,597.72L112.89,597.72L107.70,606.88Z" fill="#E0157E" stroke="#000" stroke-width="1.45" stroke-linejoin="miter"/>
<rect x="103.28" y="618.38" width="9.24" height="9.24" fill="#860A4A" stroke="#000" stroke-width="1.45"/>
<circle cx="107.60" cy="645.20" r="5.06" fill="#80FF80" stroke="#000" stroke-width="1.45"/>
<path d="M103.47,669.34L113.33,669.34L108.40,661.06Z" fill="#04C604" stroke="#000" stroke-width="1.45" stroke-linejoin="miter"/>
<rect x="103.48" y="679.78" width="9.24" height="9.24" fill="#006800" stroke="#000" stroke-width="1.45"/>
</svg>
<div class="yt" style="top:33.40px">2</div>
<div class="yt" style="top:74.53px">1</div>
<div class="yt" style="top:115.65px">0</div>
<div class="yt" style="top:156.78px">-1</div>
<div class="yt" style="top:197.90px">-2</div>
<div class="yt" style="top:239.03px">-3</div>
<div class="yt" style="top:280.15px">-4</div>
<div class="yt" style="top:321.27px">-5</div>
<div class="yt" style="top:362.40px">-6</div>
<div class="yt" style="top:403.52px">-7</div>
<div class="yt" style="top:444.65px">-8</div>
<div class="yt" style="top:485.77px">-9</div>
<div class="yt" style="top:526.90px">-10</div>
<div class="yt" style="top:568.02px">-11</div>
<div class="yt" style="top:609.15px">-12</div>
<div class="yt" style="top:650.27px">-13</div>
<div class="yt" style="top:691.40px">-14</div>
<div class="xl" style="left:123.77px">Sst1</div>
<div class="xl" style="left:149.84px">Sultr3.1a</div>
<div class="xl" style="left:175.91px">Sultr3.1b</div>
<div class="xl" style="left:201.98px">Sultr3.3a</div>
<div class="xl" style="left:228.05px">Sultr3.3b</div>
<div class="xl" style="left:254.12px">Sultr3.4a</div>
<div class="xl" style="left:280.19px">Sultr1.1</div>
<div class="xl" style="left:306.26px">Sultr1.3</div>
<div class="xl" style="left:332.33px">Atps</div>
<div class="xl" style="left:358.40px">Apr1</div>
<div class="xl" style="left:384.47px">Apr2</div>
<div class="xl" style="left:410.54px">Sir</div>
<div class="xl" style="left:436.61px">Sat1</div>
<div class="xl" style="left:462.68px">Sat2</div>
<div class="xl" style="left:488.75px">Sat3</div>
<div class="xl" style="left:514.82px">Sat4</div>
<div class="xl" style="left:540.89px">Oastl1</div>
<div class="xl" style="left:566.96px">Oastl2</div>
<div class="xl" style="left:593.03px">Oastl3</div>
<div class="xl" style="left:619.10px">Oastl4</div>
<div class="xl" style="left:645.17px">Oastl5</div>
<div class="xl" style="left:671.24px">Oastl6</div>
<div class="xl" style="left:697.31px">γecs1</div>
<div class="xl" style="left:723.38px">γecs2</div>
<div class="xl" style="left:749.45px">Gshs</div>
<div class="xl" style="left:775.52px">Hgshs</div>
<div class="hd" style="left:143px;width:100px;top:2.9px">Sulfate<br>uptake</div>
<div class="hd" style="left:310px;width:100px;top:2.9px">Sulfate<br>reduction</div>
<div class="hd" style="left:490px;width:100px;top:2.9px">CYS<br>synthesis</div>
<div class="hd" style="left:686px;width:100px;top:2.9px">GSH, hGSH<br>synthesis</div>
<div class="lg" style="top:571.00px">Nodules 14dpi</div>
<div class="lg" style="top:592.50px">Nodules 21dpi</div>
<div class="lg" style="top:614.00px">Nodules 28dpi</div>
<div class="lg" style="top:635.40px">Roots inoc.</div>
<div class="lg" style="top:655.70px">Stems inoc.</div>
<div class="lg" style="top:675.10px">Leaves inoc.</div>
<div class="ylab" style="transform:translate(-1.3px,508px) rotate(-90deg)">Relative expression levels</div>
</body></html>
